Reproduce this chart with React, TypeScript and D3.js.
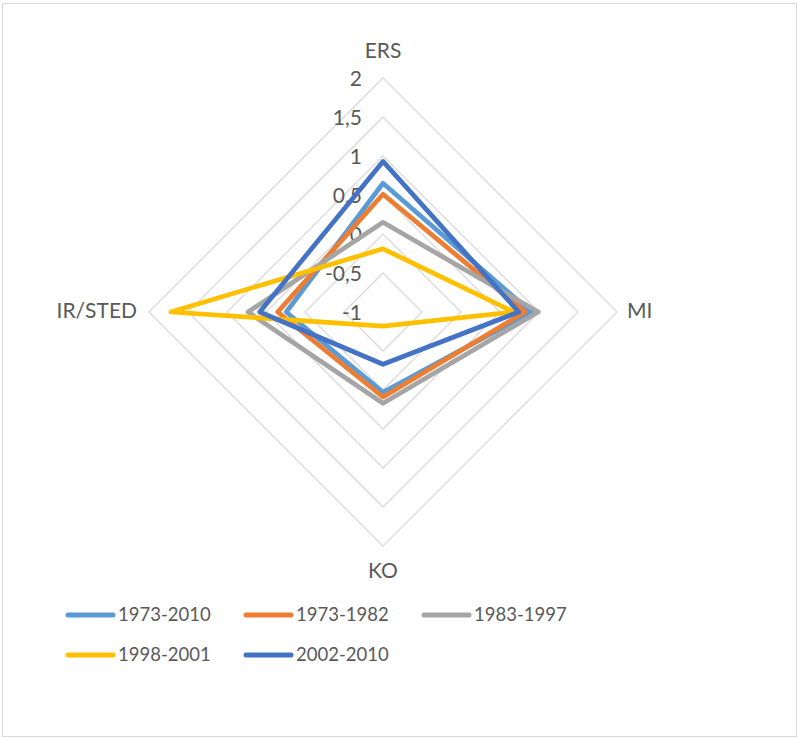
import React from 'react';
import * as d3 from 'd3';

const axes = ['ERS', 'MI', 'KO', 'IR/STED'];
const seriesNames = ['1973-2010', '1973-1982', '1983-1997', '1998-2001', '2002-2010'];
const colors = ['#5B9BD5', '#ED7D31', '#A5A5A5', '#FFC000', '#4472C4'];
const v1973_2010 = [0.65, 0.9, 0.03, 0.24];
const v1973_1982 = [0.51, 0.82, 0.09, 0.35];
const v1983_1997 = [0.15, 0.99, 0.17, 0.73];
const v1998_2001 = [-0.19, 0.68, -0.82, 1.72];
const v2002_2010 = [0.93, 0.74, -0.33, 0.58];
const seriesValues = [v1973_2010, v1973_1982, v1983_1997, v1998_2001, v2002_2010];
const ticks = [-1, -0.5, 0, 0.5, 1, 1.5, 2];

const W = 799;
const H = 738;
const cx = 383;
const cy = 312;
const font = 'Lato, "Open Sans", sans-serif';
const textColor = '#595959';

const App = () => {
  const r = d3.scaleLinear().domain([-1, 2]).range([0, 234]);
  const angle = (i: number) => (i * 2 * Math.PI) / axes.length;
  const pt = (i: number, v: number): [number, number] => [
    cx + r(v) * Math.sin(angle(i)),
    cy - r(v) * Math.cos(angle(i)),
  ];
  const closed = d3.line<[number, number]>().curve(d3.curveLinearClosed);
  const fmt = (t: number) => String(t).replace('.', ',');

  const labelPos = [
    { x: cx, y: 53, anchor: 'middle' },
    { x: 627, y: cy + 1, anchor: 'start' },
    { x: cx, y: 573, anchor: 'middle' },
    { x: 137, y: cy + 1, anchor: 'end' },
  ];

  const legendX = [68, 246, 424];
  const legendY = [615, 655];

  return (
    <svg width={W} height={H} style={{ position: 'absolute', left: 0, top: 0 }}>
      <rect x={0} y={0} width={W} height={H} fill="#fff" />
      <rect x={2.5} y={3.5} width={794} height={733} fill="none" stroke="#D9D9D9" strokeWidth={1} />

      {/* rings */}
      {ticks.slice(1).map((t) => (
        <path
          key={t}
          d={closed(axes.map((_, i) => pt(i, t))) || ''}
          fill="none"
          stroke="#D9D9D9"
          strokeWidth={1.3}
        />
      ))}

      {/* tick labels */}
      {ticks.map((t) => (
        <text
          key={t}
          x={362}
          y={cy - r(t) + 3}
          textAnchor="end"
          dominantBaseline="middle"
          fontFamily={font}
          fontSize={21}
          fill={textColor}
        >
          {fmt(t)}
        </text>
      ))}

      {/* axis labels */}
      {axes.map((a, i) => (
        <text
          key={a}
          x={labelPos[i].x}
          y={labelPos[i].y}
          textAnchor={labelPos[i].anchor as any}
          dominantBaseline="middle"
          fontFamily={font}
          fontSize={21}
          fill={textColor}
        >
          {a}
        </text>
      ))}

      {/* series */}
      {seriesValues.map((vals, s) => (
        <path
          key={seriesNames[s]}
          d={closed(vals.map((v, i) => pt(i, v))) || ''}
          fill="none"
          stroke={colors[s]}
          strokeWidth={4.75}
          strokeLinejoin="round"
        />
      ))}

      {/* legend */}
      {seriesNames.map((n, s) => {
        const x = legendX[s % 3];
        const y = legendY[Math.floor(s / 3)];
        return (
          <g key={n}>
            <line x1={x} x2={x + 45} y1={y} y2={y} stroke={colors[s]} strokeWidth={5} strokeLinecap="round" />
            <text
              x={x + 50}
              y={y + 1}
              dominantBaseline="middle"
              fontFamily={font}
              fontSize={18.5}
              fill={textColor}
            >
              {n}
            </text>
          </g>
        );
      })}
    </svg>
  );
};

export default App;
